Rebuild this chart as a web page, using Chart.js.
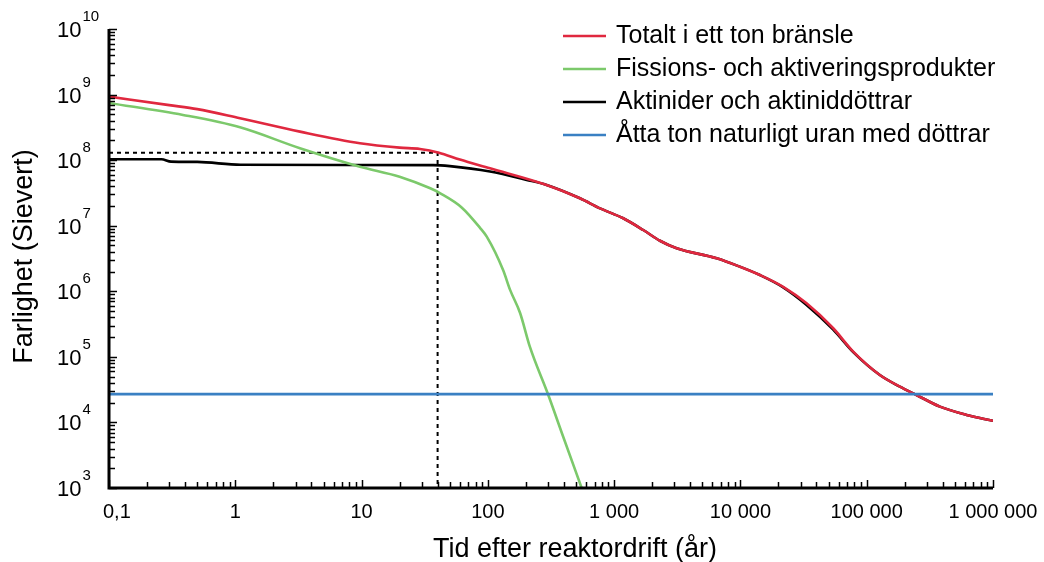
<!DOCTYPE html>
<html><head><meta charset="utf-8">
<script src="https://cdn.jsdelivr.net/npm/chart.js@4.4.0/dist/chart.umd.min.js"></script>
<style>html,body{margin:0;padding:0;background:#fff;}canvas{display:block;}</style>
</head><body>
<canvas id="c" width="1044" height="562"></canvas>
<script>
// ---- data ----
const seriesNames = ['Totalt i ett ton bränsle', 'Fissions- och aktiveringsprodukter', 'Aktinider och aktiniddöttrar', 'Åtta ton naturligt uran med döttrar'];

const totalYears  = [0.1, 0.3, 0.5, 1.09, 3.25, 9.7, 20, 29, 41, 60, 104, 292, 536, 773, 1180, 1700, 2305, 3125, 6480, 9910, 14260, 21800, 33400, 54300, 78200, 127000, 183000, 248000, 380000, 618000, 1000000];
const totalValues = [9.3e8, 6.9e8, 6.0e8, 4.35e8, 2.72e8, 1.81e8, 1.55e8, 1.48e8, 1.30e8, 1.02e8, 7.5e7, 4.18e7, 2.62e7, 1.84e7, 1.30e7, 8.6e6, 5.9e6, 4.53e6, 3.19e6, 2.37e6, 1.77e6, 1.17e6, 6.56e5, 2.73e5, 1.20e5, 5.28e4, 3.51e4, 2.62e4, 1.74e4, 1.30e4, 1.06e4];

const fissionYears  = [0.1, 0.385, 1.09, 3.25, 9.7, 20, 35, 42, 62, 87, 98, 132, 150, 180, 215, 301, 395, 553];
const fissionValues = [7.45e8, 4.89e8, 3.17e8, 1.52e8, 7.95e7, 5.6e7, 3.72e7, 3.12e7, 1.9e7, 9.2e6, 6.8e6, 2.11e6, 1.05e6, 4.67e5, 1.43e5, 2.62e4, 6.05e3, 1.0e3];

const actinideYears  = [0.1, 0.26, 0.31, 0.5, 1.1, 37, 50, 104, 203, 292, 536, 773, 1180, 1700, 2305, 3125, 6480, 9910, 14260, 21800, 33400, 54300, 78200, 127000, 183000, 248000, 380000, 618000, 1000000];
const actinideValues = [1.03e8, 1.03e8, 9.5e7, 9.4e7, 8.5e7, 8.4e7, 8.1e7, 6.7e7, 5.0e7, 4.18e7, 2.62e7, 1.84e7, 1.30e7, 8.6e6, 5.9e6, 4.53e6, 3.19e6, 2.37e6, 1.77e6, 1.15e6, 6.2e5, 2.6e5, 1.18e5, 5.28e4, 3.51e4, 2.62e4, 1.74e4, 1.30e4, 1.06e4];

const uraniumYears  = [0.1, 1000000];
const uraniumValues = [2.7e4, 2.7e4];

const markerYear = 40;
const markerValue = 1.3e8;

const xTickValues = [0.1, 1, 10, 100, 1000, 10000, 100000, 1000000];
const xTickLabels = ['0,1', '1', '10', '100', '1 000', '10 000', '100 000', '1 000 000'];
const yTickExponents = [3, 4, 5, 6, 7, 8, 9, 10];
const xTitle = 'Tid efter reaktordrift (år)';
const yTitle = 'Farlighet (Sievert)';

// ---- styles ----
const FONT = '"Liberation Sans", Arial, Helvetica, sans-serif';
const colors = ['#e0283f', '#7cc96b', '#000000', '#3a80c3'];

const mk = (xs, ys) => xs.map((x, i) => ({x: x, y: ys[i]}));

const decor = {
  id: 'decor',
  afterDatasetsDraw(chart) {
    const ctx = chart.ctx, a = chart.chartArea, xs = chart.scales.x, ys = chart.scales.y;
    ctx.save();
    // axis lines
    ctx.strokeStyle = '#000';
    ctx.lineWidth = 3;
    ctx.beginPath();
    ctx.moveTo(a.left, a.top);
    ctx.lineTo(a.left, a.bottom);
    ctx.lineTo(a.right, a.bottom);
    ctx.stroke();
    // y ticks (inward)
    ctx.lineWidth = 1.5;
    const yMin = yTickExponents[0], yMax = yTickExponents[yTickExponents.length - 1];
    for (let e = yMin; e <= yMax; e++) {
      for (let k = 1; k <= 9; k++) {
        const v = k * Math.pow(10, e);
        if (v > Math.pow(10, yMax) * 1.0001) break;
        const p = Math.round(ys.getPixelForValue(v)) + 0.5;
        const len = k === 1 ? 8 : 6;
        ctx.beginPath(); ctx.moveTo(a.left, p); ctx.lineTo(a.left + len, p); ctx.stroke();
      }
    }
    // x ticks (inward)
    for (let e = -1; e <= 6; e++) {
      for (let k = 1; k <= 9; k++) {
        const v = k * Math.pow(10, e);
        if (v > 1e6 * 1.0001) break;
        const p = Math.round(xs.getPixelForValue(v)) + 0.5;
        const len = k === 1 ? 8 : 6;
        ctx.beginPath(); ctx.moveTo(p, a.bottom); ctx.lineTo(p, a.bottom - len); ctx.stroke();
      }
    }
    ctx.fillStyle = '#000';
    // y labels with superscript exponents
    ctx.textAlign = 'left';
    ctx.textBaseline = 'alphabetic';
    yTickExponents.forEach(e => {
      const p = ys.getPixelForValue(Math.pow(10, e));
      ctx.font = '22px ' + FONT;
      ctx.fillText('10', 57, p + 8);
      const w = ctx.measureText('10').width;
      ctx.font = '15px ' + FONT;
      ctx.fillText(String(e), 57 + w + 1, p - 8);
    });
    // x labels
    ctx.font = '20px ' + FONT;
    ctx.textBaseline = 'middle';
    ctx.textAlign = 'left';
    xTickValues.forEach((v, i) => {
      const p = xs.getPixelForValue(v);
      const w = ctx.measureText(xTickLabels[i]).width;
      let l = p - w / 2;
      if (l < 103) l = 103;
      if (l + w > 1040) l = 1040 - w;
      ctx.fillText(xTickLabels[i], l, 512);
    });
    // axis titles
    ctx.font = '27px ' + FONT;
    ctx.textAlign = 'center';
    ctx.textBaseline = 'alphabetic';
    ctx.fillText(xTitle, 575, 557);
    ctx.save();
    ctx.translate(32, (a.top + a.bottom) / 2 - 2);
    ctx.rotate(-Math.PI / 2);
    ctx.fillText(yTitle, 0, 0);
    ctx.restore();
    // legend
    ctx.font = '25px ' + FONT;
    ctx.textAlign = 'left';
    ctx.textBaseline = 'middle';
    const legendItems = chart.data.datasets.filter(d => d.label);
    legendItems.forEach((d, i) => {
      const yy = 36 + i * 33;
      ctx.strokeStyle = d.borderColor;
      ctx.lineWidth = 2.6;
      ctx.beginPath(); ctx.moveTo(563, yy); ctx.lineTo(606, yy); ctx.stroke();
      ctx.fillStyle = '#000';
      ctx.fillText(d.label, 616, yy);
    });
    ctx.restore();
  }
};

const common = {pointRadius: 0, borderWidth: 2.6, fill: false, cubicInterpolationMode: 'monotone'};

new Chart(document.getElementById('c'), {
  type: 'line',
  data: {
    datasets: [
      Object.assign({label: seriesNames[0], data: mk(totalYears, totalValues), borderColor: colors[0], order: 1}, common),
      Object.assign({label: seriesNames[1], data: mk(fissionYears, fissionValues), borderColor: colors[1], order: 2}, common),
      Object.assign({label: seriesNames[2], data: mk(actinideYears, actinideValues), borderColor: colors[2], order: 3}, common),
      Object.assign({label: seriesNames[3], data: mk(uraniumYears, uraniumValues), borderColor: colors[3], order: 0}, common),
      {label: '', data: [{x: xTickValues[0], y: markerValue}, {x: markerYear, y: markerValue}, {x: markerYear, y: Math.pow(10, yTickExponents[0])}],
       borderColor: '#000', borderWidth: 2, borderDash: [4, 4], pointRadius: 0, tension: 0, order: 5}
    ]
  },
  options: {
    responsive: false,
    animation: false,
    devicePixelRatio: 1,
    layout: {padding: {left: 0, right: 51, top: 29, bottom: 0}},
    plugins: {legend: {display: false}, tooltip: {enabled: false}},
    scales: {
      x: {type: 'logarithmic', min: xTickValues[0], max: xTickValues[xTickValues.length - 1],
          grid: {display: false}, border: {display: false}, ticks: {display: false},
          afterFit(s) { s.height = 74; }},
      y: {type: 'logarithmic', min: Math.pow(10, yTickExponents[0]), max: Math.pow(10, yTickExponents[yTickExponents.length - 1]),
          grid: {display: false}, border: {display: false}, ticks: {display: false},
          afterFit(s) { s.width = 109; }}
    }
  },
  plugins: [decor]
});
</script>
</body></html>
